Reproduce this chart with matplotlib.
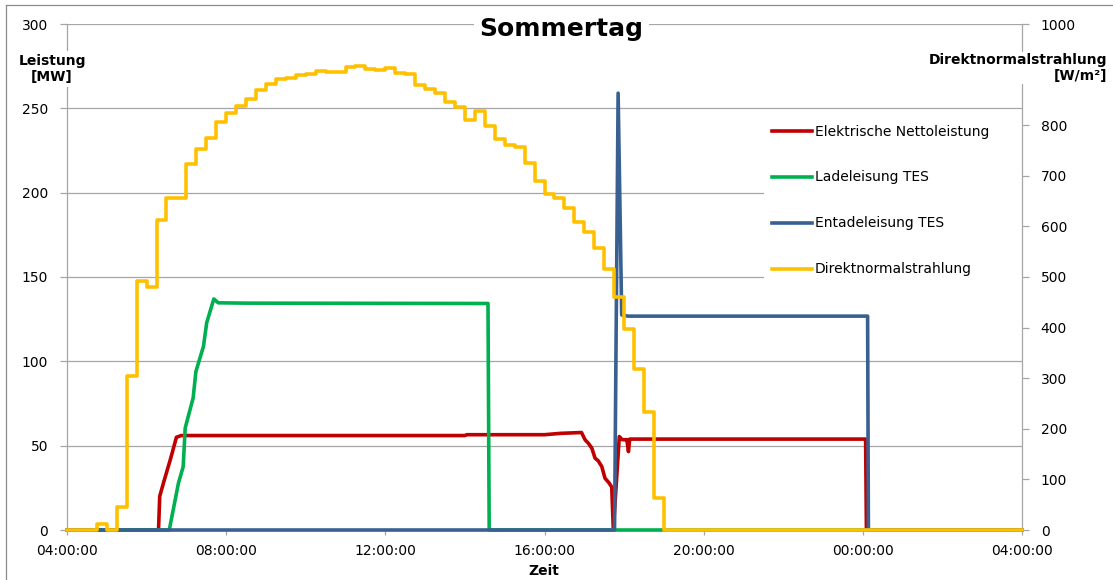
import matplotlib
matplotlib.use('Agg')
import matplotlib.pyplot as plt
import numpy as np
from matplotlib.lines import Line2D
from matplotlib.patches import Rectangle

plt.rcParams['font.family'] = ['DejaVu Sans']

# ---------------- data ----------------
title = 'Sommertag'
series_names = ['Elektrische Nettoleistung', 'Ladeleisung TES',
                'Entadeleisung TES', 'Direktnormalstrahlung']

xtick_hours = [4, 8, 12, 16, 20, 24, 28]
xtick_labels = ['04:00:00', '08:00:00', '12:00:00', '16:00:00',
                '20:00:00', '00:00:00', '04:00:00']
left_ticks = [0, 50, 100, 150, 200, 250, 300]
right_ticks = [0, 100, 200, 300, 400, 500, 600, 700, 800, 900, 1000]
# the 900 label is hidden behind the axis title in the original
right_tick_labels = ['0', '100', '200', '300', '400', '500', '600', '700',
                     '800', '', '1000']

# Elektrische Nettoleistung [MW]
red_t = [4.0, 6.30, 6.33, 6.45, 6.60, 6.75, 6.87, 14.0, 14.05, 16.0, 16.4,
         16.93, 17.02, 17.10, 17.19, 17.27, 17.35, 17.44, 17.52, 17.62, 17.69,
         17.73, 17.88, 17.95, 18.02, 18.07, 18.11, 18.14, 18.20, 24.07, 24.09, 28.0]
red_v = [0, 0, 20, 30, 42, 55, 56, 56, 56.5, 56.5, 57.3,
         57.8, 53.5, 51.5, 48.5, 42.6, 41.0, 37.6, 30.7, 28.0, 25.4,
         0, 55.4, 53.6, 53.5, 53.6, 46.5, 53.9, 53.9, 53.9, 0, 0]

# Ladeleisung TES [MW]
green_t = [4.0, 6.57, 6.80, 6.92, 6.97, 7.17, 7.24, 7.43, 7.51, 7.69, 7.80,
           8.5, 14.58, 14.61, 28.0]
green_v = [0, 0, 27.7, 37.6, 60.4, 78.3, 94, 108.9, 122.8, 137, 134.7,
           134.5, 134.3, 0, 0]

# Entadeleisung TES [MW]
blue_t = [4.0, 17.76, 17.85, 17.94, 18.10, 24.12, 24.14, 28.0]
blue_v = [0, 0, 259, 127.5, 126.8, 126.8, 0, 0]

# Direktnormalstrahlung [W/m2], 15-minute values from 04:00 to 19:00
dni_start = 4.0
dni_step = 0.25
dni_values = [0, 0, 0, 12, 0, 45, 305, 492, 481, 613, 657, 657,
              723, 753, 774, 806, 824, 838, 851, 869, 882, 891, 893, 899,
              902, 907, 905, 905, 915, 917, 912, 910, 914, 903, 901, 880,
              871, 864, 846, 836, 810, 828, 798, 772, 760, 757, 726, 690,
              664, 657, 637, 609, 589, 557, 516, 460, 398, 319, 234, 63, 0]
dni_end = 28.0

colors = ['#C00000', '#00B050', '#386192', '#FFC000']

# ---------------- figure ----------------
W, H = 1113, 580
fig = plt.figure(figsize=(W / 100, H / 100), dpi=100)

ax = fig.add_axes([67 / W, 50 / H, 955 / W, 506 / H])
ax2 = ax.twinx()

grid_c = '#A6A6A6'
lw = 2.6

l1, = ax.plot(red_t, red_v, color=colors[0], lw=lw, clip_on=False,
              solid_joinstyle='round', zorder=2)
l2, = ax.plot(green_t, green_v, color=colors[1], lw=lw, clip_on=False,
              solid_joinstyle='round', zorder=3)
l3, = ax.plot(blue_t, blue_v, color=colors[2], lw=lw, clip_on=False,
              solid_joinstyle='round', zorder=4)

dni_t = list(dni_start + dni_step * np.arange(len(dni_values))) + [dni_end]
dni_v = list(dni_values) + [dni_values[-1]]
l4, = ax2.plot(dni_t, dni_v, color=colors[3], lw=lw, clip_on=False,
               drawstyle='steps-post', solid_joinstyle='round', zorder=5)

ax.set_xlim(4, 28)
ax.set_ylim(0, 300)
ax2.set_ylim(0, 1000)

ax.set_xticks(xtick_hours)
ax.set_xticklabels(xtick_labels)
ax.set_yticks(left_ticks)
ax2.set_yticks(right_ticks)
ax2.set_yticklabels(right_tick_labels)

ax.yaxis.grid(True, color=grid_c, lw=0.9)
ax.set_axisbelow(True)

# white legend background (covers the gridlines like the original)
ax.add_patch(Rectangle((764 / W, 1 - 287 / H), (1022 - 764) / W, (287 - 114) / H,
                       transform=fig.transFigure, facecolor='white',
                       edgecolor='none', zorder=1))

for a in (ax, ax2):
    a.spines['top'].set_visible(False)
ax2.spines['left'].set_visible(False)
ax2.spines['bottom'].set_visible(False)
for s in ('left', 'bottom'):
    ax.spines[s].set_color(grid_c)
    ax.spines[s].set_linewidth(0.9)
ax.spines['right'].set_visible(False)
ax2.spines['right'].set_color(grid_c)
ax2.spines['right'].set_linewidth(0.9)

ax.tick_params(axis='y', direction='out', length=5, width=0.9, color=grid_c,
               labelsize=10, pad=8.5, labelcolor='black')
ax2.tick_params(axis='y', direction='out', length=5, width=0.9, color=grid_c,
                labelsize=10, pad=8.5, labelcolor='black')
ax.tick_params(axis='x', direction='out', length=3.6, width=0.9, color=grid_c,
               labelsize=10, pad=6.5, labelcolor='black')

# legend
leg = ax2.legend([l1, l2, l3, l4], series_names, loc='upper left',
                 bbox_to_anchor=(766 / W, 1 - 119 / H),
                 bbox_transform=fig.transFigure, borderaxespad=0,
                 borderpad=0.4, fontsize=10, frameon=True, fancybox=False,
                 labelspacing=2.3, handlelength=2.9, handletextpad=0.2)
leg.get_frame().set_facecolor('white')
leg.get_frame().set_edgecolor('none')
leg.get_frame().set_alpha(1)

# title and axis labels
fig.text(561 / W, 1 - 29 / H, title, ha='center', va='center',
         fontsize=18, fontweight='bold',
         bbox=dict(fc='white', ec='none', pad=4))
fig.text(52 / W, 1 - 69 / H, 'Leistung\n[MW]', ha='center', va='center',
         fontsize=10, fontweight='bold', linespacing=1.15,
         bbox=dict(fc='white', ec='none', pad=2))
fig.text(1107 / W, 1 - 68 / H, 'Direktnormalstrahlung\n[W/m²]', ha='right',
         va='center', multialignment='right', fontsize=10, fontweight='bold',
         linespacing=1.15, bbox=dict(fc='white', ec='none', pad=1))
fig.text(544 / W, 1 - 571 / H, 'Zeit', ha='center', va='center',
         fontsize=10, fontweight='bold')

# chart border
fig.add_artist(Line2D([6 / W, 1], [1 - 5 / H, 1 - 5 / H],
                      transform=fig.transFigure, color='#8C8C8C', lw=0.9))
fig.add_artist(Line2D([6 / W, 6 / W], [0, 1 - 5 / H],
                      transform=fig.transFigure, color='#8C8C8C', lw=0.9))

fig.savefig('out.png', dpi=100)
